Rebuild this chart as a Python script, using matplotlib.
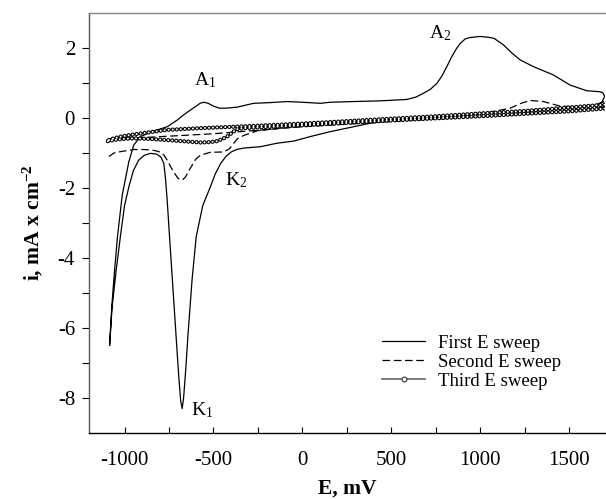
import matplotlib
matplotlib.use("Agg")
import matplotlib.pyplot as plt
from matplotlib.lines import Line2D

plt.rcParams["font.family"] = "Liberation Serif"
plt.rcParams["mathtext.fontset"] = "custom"
plt.rcParams["mathtext.rm"] = "Liberation Serif"
plt.rcParams["mathtext.it"] = "Liberation Serif:italic"
plt.rcParams["mathtext.bf"] = "Liberation Serif:bold"
plt.rcParams["axes.unicode_minus"] = False
plt.rcParams["lines.scale_dashes"] = False

# ── First E sweep (solid), one closed path: tip -> K1 -> lower branch -> A2 -> A1 -> tip
E1 = [-1084, -1070, -1047, -1020, -1000, -975, -950, -920, -890, -855, -820, -795,
      -779, -770, -761, -747, -730, -710, -695, -684, -676, -668, -656, -644, -620,
      -597, -560, -520, -490, -460, -430, -400, -370, -330, -236, -142, -49, 45, 157,
      288, 382, 513, 700, 900, 1100, 1300, 1500, 1640, 1685, 1700, 1690, 1674, 1599,
      1506, 1412, 1299, 1225, 1180, 1131, 1080, 1056, 1000, 944, 916, 888, 869, 840,
      813, 785, 757, 720, 682, 640, 588, 438, 288, 157, 101, 0, -86, -180, -274, -367,
      -430, -466, -500, -530, -554, -575, -600, -629, -670, -704, -760, -816, -860,
      -910, -948, -976, -1013, -1040, -1056, -1072, -1084]
i1 = [-6.49, -5.40, -4.34, -3.25, -2.50, -1.95, -1.50, -1.20, -1.07, -1.01, -1.03, -1.12,
      -1.30, -1.72, -2.30, -3.39, -4.70, -6.25, -7.40, -8.10, -8.30, -8.00, -7.20, -6.25, -4.60,
      -3.39, -2.50, -2.00, -1.60, -1.30, -1.10, -0.97, -0.90, -0.86, -0.82, -0.72, -0.66, -0.53, -0.39,
      -0.25, -0.15, -0.06, 0.02, 0.08, 0.15, 0.22, 0.28, 0.35, 0.45, 0.62, 0.72, 0.75, 0.78,
      0.94, 1.23, 1.47, 1.66, 1.85, 2.09, 2.27, 2.30, 2.33, 2.30, 2.26, 2.13, 2.00, 1.75,
      1.47, 1.20, 0.99, 0.82, 0.71, 0.60, 0.53, 0.49, 0.47, 0.45, 0.42, 0.45, 0.47, 0.44, 0.42, 0.31,
      0.28, 0.28, 0.34, 0.42, 0.45, 0.42, 0.33, 0.23, 0.08, -0.06, -0.25, -0.34, -0.42,
      -0.53, -0.77, -1.25, -2.20, -3.40, -4.34, -5.40, -6.49]

# ── Second E sweep (dashed)
E2 = [-1088, -1060, -1022, -948, -892, -840, -807, -780, -761, -740, -723, -700, -685,
      -670, -657, -640, -620, -600, -573, -517, -442, -410, -367, -330, -250, 0, 300, 600,
      900, 1037, 1169, 1230, 1281, 1356, 1449, 1543, 1655, 1693, 1690, 1400, 1000, 500, 0,
      -500, -900, -1060]
i2 = [-1.10, -1.00, -0.96, -0.90, -0.90, -0.92, -0.96, -1.05, -1.20, -1.40, -1.55, -1.72, -1.77,
      -1.75, -1.68, -1.52, -1.35, -1.18, -1.06, -0.98, -0.97, -0.88, -0.60, -0.50, -0.36, -0.22, -0.10, 0.00,
      0.07, 0.15, 0.28, 0.42, 0.50, 0.47, 0.34, 0.32, 0.37, 0.47, 0.30, 0.15, 0.04, -0.10, -0.25,
      -0.45, -0.56, -0.62]

# ── Third E sweep (open circles)
E3 = [-1094, -1050, -1010, -948, -850, -761, -680, -573, -520, -479, -450, -423, -390,
      -367, -330, -250, 0, 250, 500, 750, 1000, 1250, 1500, 1700,
      1700, 1500, 1250, 1000, 750, 500, 250, 0, -250, -386, -573, -761, -850, -948,
      -1010, -1060, -1094]
i3 = [-0.66, -0.62, -0.60, -0.58, -0.60, -0.63, -0.66, -0.70, -0.69, -0.66, -0.60, -0.53, -0.40,
      -0.32, -0.29, -0.27, -0.21, -0.14, -0.07, -0.01, 0.05, 0.12, 0.19, 0.27,
      0.38, 0.30, 0.20, 0.13, 0.05, -0.02, -0.09, -0.16, -0.22, -0.25, -0.29, -0.34, -0.40, -0.47,
      -0.52, -0.58, -0.64]

legend_labels = ["First E sweep", "Second E sweep", "Third E sweep"]
peaks = [("A$_1$", -612, 0.94), ("A$_2$", 710, 2.28), ("K$_2$", -433, -1.91), ("K$_1$", -629, -8.5)]

fig = plt.figure(figsize=(6.06, 4.99), dpi=100)
ax = fig.add_axes([89 / 606, 66 / 499, 515.6 / 606, 420 / 499])

dash = (0, (5.5, 2.6))
ax.plot(E2, i2, color="black", lw=0.9, ls=dash, zorder=2)
ax.plot(E1, i1, color="black", lw=0.9, zorder=3)
# open circles drawn as ring dots along the path
dots = (0, (0.01, 2.9))
ax.plot(E3, i3, color="black", lw=3.1, ls=dots, dash_capstyle="round", zorder=4)
ax.plot(E3, i3, color="white", lw=1.5, ls=dots, dash_capstyle="round", zorder=5)

for txt, x, y in peaks:
    ax.text(x, y, txt, fontsize=14, ha="left", va="baseline")

ax.set_xlim(-1200, 1700)
ax.set_ylim(-9, 3)
ax.set_xticks(range(-1000, 1501, 250))
ax.set_xticklabels([str(v) if v % 500 == 0 else "" for v in range(-1000, 1501, 250)])
ax.set_yticks(range(-8, 3))
ax.set_yticklabels([str(v) if v % 2 == 0 else "" for v in range(-8, 3)])
ax.tick_params(axis="x", direction="in", length=4, width=0.8, labelsize=15, pad=13)
ax.tick_params(axis="y", direction="out", length=5, width=0.8, labelsize=15, pad=5)

ax.spines["right"].set_visible(False)
ax.spines["top"].set_color("#888888")
ax.spines["left"].set_color("#555555")
for s in ax.spines.values():
    s.set_linewidth(1.0)

ax.set_xlabel("E, mV", fontsize=15.5, fontweight="bold", labelpad=6)
ax.set_ylabel(r"i, mA x cm$^{\mathbf{-2}}$", fontsize=15.5, fontweight="bold", labelpad=9)

h1 = Line2D([], [], color="black", lw=0.9)
h2 = Line2D([], [], color="black", lw=0.9, ls=dash)
h3 = Line2D([], [], color="#666666", lw=1.2, marker="o", ms=3.5,
            mfc="white", mec="#333333", mew=0.8)
fig.legend([h1, h2, h3], legend_labels, loc="center left",
           bbox_to_anchor=(382 / 606, (499 - 362) / 499), frameon=False,
           fontsize=13.5, handlelength=2.3, handletextpad=0.7, labelspacing=0.1,
           borderpad=0, borderaxespad=0, numpoints=1)

fig.savefig("out.png", dpi=100)
